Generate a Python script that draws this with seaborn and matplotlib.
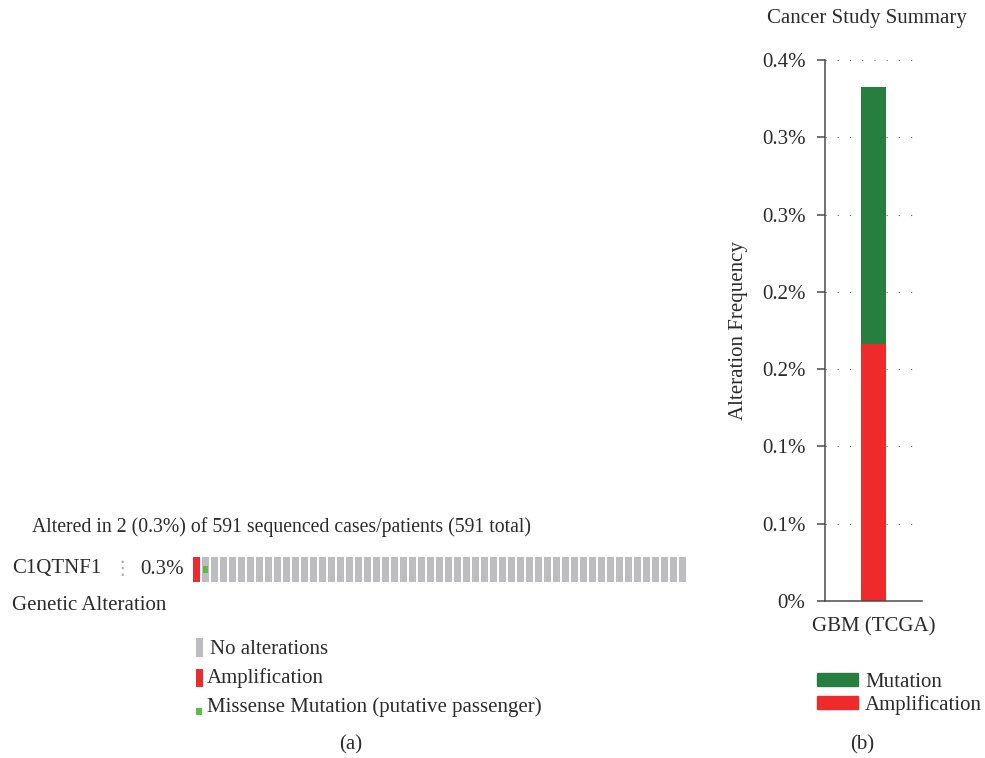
import numpy as np
import seaborn as sns
import matplotlib.pyplot as plt
from matplotlib.patches import Patch, Rectangle

# data
study = ['GBM (TCGA)']
amp_freq = [0.169]      # % of cases, amplification
mut_freq = [0.169]      # % of cases, mutation
n_cases_shown = 55
case_status = ['amp', 'mut'] + ['none'] * (n_cases_shown - 2)
gene = 'C1QTNF1'
gene_pct = '0.3%'
summary_text = 'Altered in 2 (0.3%) of 591 sequenced cases/patients (591 total)'

green = '#267f3f'
red = '#ee2a2a'
grey_bar = '#bdbdc0'
light_green = '#5fbb48'
txt = '#2b2b2b'
axc = '#4a4a4a'

sns.set_theme(style='white')
plt.rcParams['font.family'] = ['Liberation Serif', 'DejaVu Serif']
plt.rcParams['text.color'] = txt

W, H = 985, 758
fig = plt.figure(figsize=(W / 100, H / 100), dpi=100)


def fx(px):
    return px / W


def fy(py):
    return 1 - py / H


fs = 15

###############################################################################
# (a) oncoprint

ax1 = fig.add_axes([fx(192), fy(582), fx(495), 25 / H])
idx = np.arange(n_cases_shown)
for i, s in zip(idx, case_status):
    col = red if s == 'amp' else grey_bar
    ax1.bar(i, 1, width=0.72, color=col, linewidth=0)
    if s == 'mut':
        ax1.bar(i, 0.3, bottom=0.36, width=0.66, color=light_green, linewidth=0)
ax1.set_xlim(-0.5, n_cases_shown - 0.5)
ax1.set_ylim(0, 1)
ax1.axis('off')

fig.text(fx(32), fy(527), summary_text, fontsize=14.2, va='center', ha='left')
fig.text(fx(12), fy(569), gene, fontsize=fs, va='center', ha='left')
fig.text(fx(122), fy(568), '\u22ee', fontsize=14, va='center', ha='center',
         color='#aaaaaa', family=['DejaVu Sans'])
fig.text(fx(140), fy(569), gene_pct, fontsize=fs, va='center', ha='left')
fig.text(fx(12), fy(606), 'Genetic Alteration', fontsize=fs, va='center', ha='left')

# legend for (a)
leg_a = [
    (grey_bar, (196, 638, 6.5, 19), 'No alterations', 210, 650),
    (red, (196, 669, 6.5, 18), 'Amplification', 207, 678),
    (light_green, (196, 708, 6, 7), 'Missense Mutation (putative passenger)', 207, 707),
]
for col, (x0, y0, w, h), lab, tx, ty in leg_a:
    fig.add_artist(Rectangle((fx(x0), fy(y0 + h)), fx(w), h / H,
                             transform=fig.transFigure, color=col, lw=0))
    fig.text(fx(tx), fy(ty), lab, fontsize=fs, va='center', ha='left')

fig.text(fx(351), fy(745), '(a)', fontsize=fs, va='center', ha='center')

###############################################################################
# (b) cancer study summary

ax2 = fig.add_axes([fx(825), fy(601), fx(97), 541 / H])
total = [a + m for a, m in zip(amp_freq, mut_freq)]
sns.barplot(x=study, y=total, color=green, width=0.264, saturation=1,
            linewidth=0, ax=ax2)
sns.barplot(x=study, y=amp_freq, color=red, width=0.264, saturation=1,
            linewidth=0, ax=ax2)

ymax = 0.356
ticks = np.linspace(0, ymax, 8)
ax2.set_ylim(0, ymax)
ax2.set_xlim(-0.5, 0.5)
ax2.set_yticks(ticks)
ax2.set_yticklabels(['0%'] + ['%.1f%%' % t for t in ticks[1:]])
ax2.yaxis.grid(True, linestyle=(0, (1, 10)), color='#666666', lw=0.8)
ax2.set_axisbelow(True)

sns.despine(ax=ax2)
for sp in ['left', 'bottom']:
    ax2.spines[sp].set_color(axc)
    ax2.spines[sp].set_linewidth(1.1)
ax2.tick_params(axis='y', which='both', left=True, length=6, width=1.1,
                color=axc, pad=8, labelsize=fs, labelcolor=txt)
ax2.tick_params(axis='x', length=0, pad=12, labelsize=fs, labelcolor=txt)
ax2.set_xlabel('')
ax2.set_ylabel('Alteration Frequency', fontsize=fs, color=txt, labelpad=10)

fig.text(fx(867), fy(18), 'Cancer Study Summary', fontsize=fs, ha='center', va='center')

handles = [Patch(color=green, label='Mutation'), Patch(color=red, label='Amplification')]
fig.legend(handles=handles, loc='upper left', bbox_to_anchor=(fx(817), fy(673)),
           frameon=False, fontsize=fs, handlelength=1.95, handleheight=0.6,
           handletextpad=0.35, labelspacing=0.15, borderaxespad=0, borderpad=0)

fig.text(fx(862), fy(745), '(b)', fontsize=fs, va='center', ha='center')

plt.savefig('out.png', dpi=100)
plt.close()
